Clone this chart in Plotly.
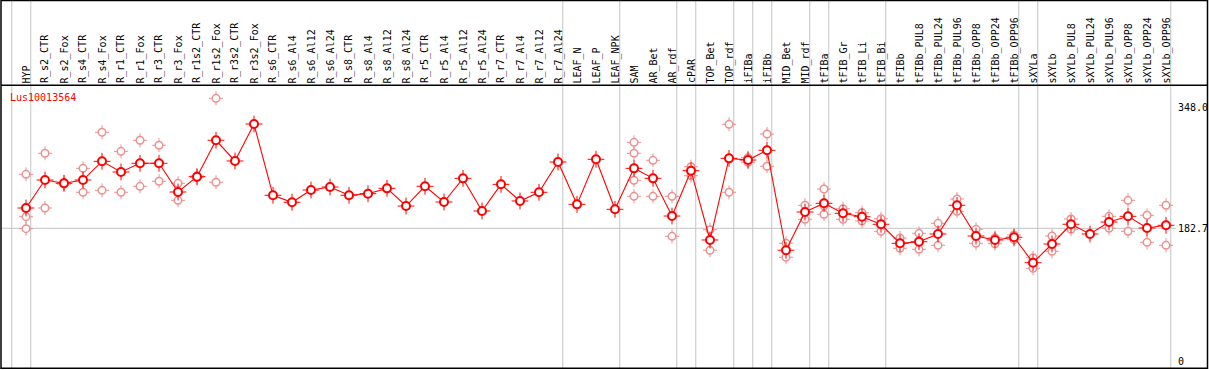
import plotly.graph_objects as go

# ---------------- data ----------------
categories = [
    "HYP", "R_s2_CTR", "R_s2_Fox", "R_s4_CTR", "R_s4_Fox", "R_r1_CTR", "R_r1_Fox",
    "R_r3_CTR", "R_r3_Fox", "R_r1s2_CTR", "R_r1s2_Fox", "R_r3s2_CTR", "R_r3s2_Fox",
    "R_s6_CTR", "R_s6_Al4", "R_s6_Al12", "R_s6_Al24", "R_s8_CTR", "R_s8_Al4",
    "R_s8_Al12", "R_s8_Al24", "R_r5_CTR", "R_r5_Al4", "R_r5_Al12", "R_r5_Al24",
    "R_r7_CTR", "R_r7_Al4", "R_r7_Al12", "R_r7_Al24", "LEAF_N", "LEAF_P", "LEAF_NPK",
    "SAM", "AR_Bet", "AR_rdf", "cPAR", "TOP_Bet", "TOP_rdf", "iFIBa", "iFIBb",
    "MID_Bet", "MID_rdf", "tFIBa", "tFIB_Gr", "tFIB_Li", "tFIB_Bi", "tFIBb",
    "tFIBb_PUL8", "tFIBb_PUL24", "tFIBb_PUL96", "tFIBb_OPP8", "tFIBb_OPP24",
    "tFIBb_OPP96", "sXYLa", "sXYLb", "sXYLb_PUL8", "sXYLb_PUL24", "sXYLb_PUL96",
    "sXYLb_OPP8", "sXYLb_OPP24", "sXYLb_OPP96",
]

mean_values = [
    210.5, 248.8, 244.3, 248.8, 274.4, 259.8, 271.7, 271.7, 232.4, 253.4, 303.2,
    274.9, 325.5, 227.9, 218.3, 235.1, 239.2, 227.9, 230.1, 237.4, 213.2, 240.2,
    218.7, 251.1, 206.4, 242.9, 220.1, 232.0, 273.5, 215.5, 277.2, 208.7, 264.8,
    251.1, 199.5, 261.6, 166.7, 278.5, 276.2, 289.5, 152.6, 205.0, 216.9, 203.2,
    198.6, 188.2, 162.1, 164.3, 174.9, 214.2, 172.1, 166.7, 170.4, 135.6, 161.2,
    188.2, 174.9, 191.3, 199.1, 183.1, 186.8,
]

replicates = [
    [256.6, 198.6, 182.2], [285.4, 210.5], [245.5, 243.1], [264.8, 232.0],
    [314.2, 234.7], [288.1, 232.0], [303.2, 240.2], [296.4, 247.1], [244.3, 221.0],
    [254.5, 252.3], [360.7, 245.7], [], [], [], [], [], [], [], [], [], [], [], [],
    [], [], [], [], [], [], [], [], [],
    [300.4, 285.4, 248.4, 226.5], [275.8, 226.5], [226.5, 171.7], [267.1, 254.7],
    [180.8, 152.6], [325.1, 232.0], [279.4, 273.1], [311.8, 267.6], [162.1, 143.0],
    [214.2, 195.0], [236.5, 213.6, 201.9], [209.5, 195.0], [204.1, 192.7],
    [195.8, 178.6], [169.4, 155.3], [175.8, 153.9], [189.5, 159.4], [222.8, 206.0],
    [181.3, 162.1], [169.8, 161.6], [173.5, 167.1], [142.4, 127.9], [172.1, 151.2],
    [195.4, 181.3], [], [199.1, 182.7], [221.0, 178.6], [200.5, 163.5],
    [214.2, 159.4],
]

group_ends = [-1, 0, 28, 31, 34, 35, 37, 38, 39, 41, 42, 45, 52, 53, 60]
y_tick_vals = [348.0, 182.7, 0]
y_tick_text = ["348.0", "182.7", "0"]
gene_name = "Lus10013564"

# ---------------- layout helpers ----------------
W, H = 1209, 370
COL = 19.0          # px per category
X0 = 26.0           # px of first category
PX_PER_UNIT = 0.7302
Y_ZERO_PX = 361.7


def pxx(p):
    return p / W


def pxy(p):
    return 1 - p / H


x_range = [-X0 / COL, -X0 / COL + W / COL]
y_range = [(Y_ZERO_PX - H) / PX_PER_UNIT, Y_ZERO_PX / PX_PER_UNIT]

FONT = "DejaVu Sans Mono"
REP_COLOR = "#ec9090"
MAIN_COLOR = "#ff0000"

fig = go.Figure()

rx, ry = [], []
for c, reps in zip(categories, replicates):
    for v in reps:
        rx.append(c)
        ry.append(v)

# replicate points: small ticks + circle
fig.add_trace(go.Scatter(
    x=rx, y=ry, mode="markers",
    marker=dict(symbol="cross-thin-open", size=10, color=REP_COLOR,
                line=dict(width=1, color=REP_COLOR)),
    hoverinfo="skip", showlegend=False,
))
fig.add_trace(go.Scatter(
    x=rx, y=ry, mode="markers",
    marker=dict(symbol="circle", size=7.5, color="white",
                line=dict(width=1.5, color=REP_COLOR)),
    hoverinfo="skip", showlegend=False,
))
# mean line + markers
fig.add_trace(go.Scatter(
    x=categories, y=mean_values, mode="lines",
    line=dict(color=MAIN_COLOR, width=1.1),
    hoverinfo="skip", showlegend=False,
))
fig.add_trace(go.Scatter(
    x=categories, y=mean_values, mode="markers",
    marker=dict(symbol="cross-thin-open", size=12, color=MAIN_COLOR,
                line=dict(width=1, color=MAIN_COLOR)),
    hoverinfo="skip", showlegend=False,
))
fig.add_trace(go.Scatter(
    x=categories, y=mean_values, mode="markers",
    marker=dict(symbol="circle", size=8, color="white",
                line=dict(width=2, color=MAIN_COLOR)),
    showlegend=False,
))

shapes = []
for g in group_ends:
    shapes.append(dict(type="line", xref="x", yref="paper",
                       x0=g + 0.25, x1=g + 0.25, y0=pxy(368), y1=1,
                       line=dict(color="#c4c4c4", width=1), layer="below"))
shapes.append(dict(type="line", xref="paper", yref="y",
                   x0=pxx(2), x1=pxx(1176), y0=y_tick_vals[1], y1=y_tick_vals[1],
                   line=dict(color="#c4c4c4", width=1), layer="below"))
shapes.append(dict(type="line", xref="paper", yref="paper",
                   x0=pxx(1), x1=pxx(1208), y0=pxy(85.3), y1=pxy(85.3),
                   line=dict(color="black", width=1.5)))
shapes.append(dict(type="rect", xref="paper", yref="paper",
                   x0=pxx(1), x1=pxx(1207.5), y0=pxy(368.3), y1=pxy(0.5),
                   line=dict(color="black", width=1.5)))

annotations = []
for c in categories:
    annotations.append(dict(x=c, y=pxy(84.5), xref="x", yref="paper",
                            text=c, textangle=-90, showarrow=False,
                            xanchor="center", yanchor="bottom",
                            font=dict(family=FONT, size=10, color="black"),
                            borderpad=0))
for v, t in zip(y_tick_vals, y_tick_text):
    annotations.append(dict(x=pxx(1177), y=v, xref="paper", yref="y", text=t,
                            showarrow=False, xanchor="left", yanchor="middle",
                            font=dict(family=FONT, size=10, color="black"),
                            borderpad=0))
annotations.append(dict(x=pxx(9), y=pxy(97), xref="paper", yref="paper",
                        text=gene_name, showarrow=False, xanchor="left",
                        yanchor="middle", borderpad=0,
                        font=dict(family=FONT, size=10, color=MAIN_COLOR)))

fig.update_layout(
    width=W, height=H, autosize=False,
    margin=dict(l=0, r=0, t=0, b=0, pad=0),
    paper_bgcolor="white", plot_bgcolor="white",
    xaxis=dict(type="category", categoryorder="array", categoryarray=categories,
               range=x_range, showgrid=False, zeroline=False,
               showticklabels=False, ticks="", showline=False, fixedrange=True),
    yaxis=dict(range=y_range, showgrid=False, zeroline=False,
               showticklabels=False, ticks="", showline=False, fixedrange=True),
    shapes=shapes, annotations=annotations,
)

fig.write_html(
    "out.html",
    config={"displayModeBar": False},
    post_script="document.body.style.margin='0';document.body.style.overflow='hidden';",
)
